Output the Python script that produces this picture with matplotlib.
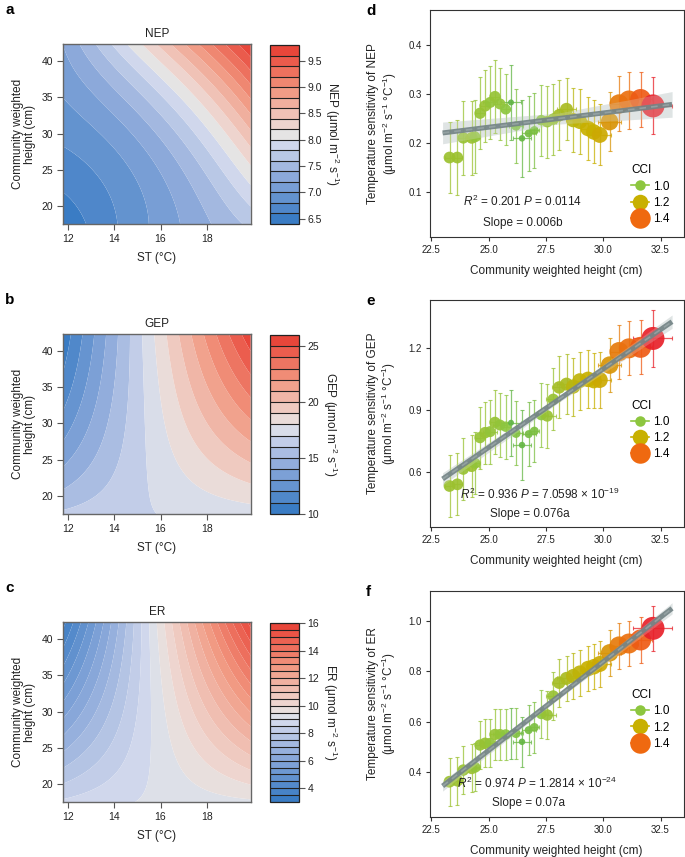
import numpy as np
import matplotlib
matplotlib.use("Agg")
import matplotlib.pyplot as plt
from matplotlib.colors import LinearSegmentedColormap
from matplotlib.lines import Line2D

plt.rcParams['font.family'] = ['Liberation Sans', 'DejaVu Sans']
plt.rcParams['mathtext.fontset'] = 'custom'
plt.rcParams['mathtext.rm'] = 'Liberation Sans'
plt.rcParams['mathtext.it'] = 'Liberation Sans:italic'
plt.rcParams['mathtext.default'] = 'regular'

# ---------------- contour panel data (values read at 3 ST x 3 height points) -------------
st_lim = [11.76, 19.91]
h_lim = [17.48, 42.3]
# rows: height low / mid / high ; cols: ST low / mid / high
nep_grid = [[6.45, 7.05, 7.65],
            [6.85, 7.4, 8.55],
            [7.2, 8.4, 9.8]]
gep_grid = [[16.2, 17.0, 17.5],
            [12.4, 17.6, 21.8],
            [10.3, 18.2, 25.7]]
er_grid = [[8.6, 9.1, 9.4],
           [5.8, 9.2, 12.5],
           [3.3, 9.5, 15.7]]
nep_levels = (6.4, 9.8, 0.2)
gep_levels = (10, 26, 1)
er_levels = (3, 16, 0.5)
nep_ticks = [6.5, 7.0, 7.5, 8.0, 8.5, 9.0, 9.5]
gep_ticks = [10, 15, 20, 25]
er_ticks = [4, 6, 8, 10, 12, 14, 16]

# ---------------- scatter panel data -------------
height = [23.3, 23.64, 23.9, 24.27, 24.41, 24.63, 24.85, 25.07, 25.28, 25.5, 25.75,
          25.98, 26.2, 26.46, 26.75, 27.0, 27.3, 27.56, 27.82, 28.08, 28.4, 28.69,
          28.98, 29.34, 29.59, 29.85, 30.28, 30.69, 31.12, 31.63, 32.17]
cci = [1.05, 1.05, 1.04, 1.05, 1.02, 1.03, 1.04, 1.02, 1.03, 1.02, 1.0,
       0.82, 0.95, 0.84, 0.9, 0.93, 1.0, 1.04, 1.04, 1.08, 1.1, 1.15,
       1.17, 1.2, 1.2, 1.22, 1.28, 1.35, 1.38, 1.42, 1.5]
height_err = [0.2, 0.2, 0.25, 0.3, 0.2, 0.2, 0.2, 0.3, 0.2, 0.3, 0.2,
              0.45, 0.3, 0.4, 0.3, 0.2, 0.3, 0.4, 0.3, 0.3, 0.4, 0.3,
              0.3, 0.3, 0.3, 0.5, 0.5, 0.4, 0.4, 0.5, 0.85]
nep_sens = [0.171, 0.171, 0.211, 0.211, 0.213, 0.261, 0.276, 0.283, 0.295, 0.28, 0.269,
            0.283, 0.235, 0.21, 0.22, 0.226, 0.247, 0.244, 0.249, 0.257, 0.269, 0.247,
            0.244, 0.23, 0.223, 0.217, 0.244, 0.28, 0.287, 0.289, 0.276]
nep_err = [0.073, 0.076, 0.075, 0.075, 0.074, 0.073, 0.073, 0.074, 0.075, 0.074, 0.072,
           0.077, 0.075, 0.078, 0.077, 0.076, 0.072, 0.073, 0.072, 0.071, 0.063, 0.065,
           0.066, 0.064, 0.064, 0.062, 0.06, 0.056, 0.057, 0.056, 0.058]
gep_sens = [0.534, 0.542, 0.616, 0.63, 0.644, 0.768, 0.792, 0.797, 0.842, 0.829, 0.821,
            0.84, 0.789, 0.732, 0.785, 0.8, 0.877, 0.873, 0.953, 1.011, 1.027, 1.015,
            1.044, 1.05, 1.044, 1.047, 1.119, 1.184, 1.2, 1.205, 1.248]
gep_err = [0.15, 0.15, 0.15, 0.15, 0.15, 0.15, 0.15, 0.155, 0.155, 0.155, 0.155,
           0.16, 0.155, 0.17, 0.155, 0.15, 0.155, 0.155, 0.15, 0.15, 0.145, 0.14,
           0.14, 0.14, 0.135, 0.135, 0.13, 0.13, 0.13, 0.13, 0.14]
er_sens = [0.363, 0.367, 0.409, 0.416, 0.42, 0.508, 0.515, 0.515, 0.55, 0.55, 0.55,
           0.554, 0.554, 0.521, 0.567, 0.578, 0.631, 0.627, 0.702, 0.755, 0.772, 0.781,
           0.794, 0.811, 0.818, 0.829, 0.873, 0.9, 0.91, 0.924, 0.97]
er_err = [0.095, 0.095, 0.095, 0.095, 0.095, 0.095, 0.095, 0.095, 0.1, 0.1, 0.1,
          0.1, 0.1, 0.1, 0.1, 0.1, 0.095, 0.095, 0.095, 0.095, 0.09, 0.09,
          0.09, 0.09, 0.09, 0.09, 0.09, 0.09, 0.09, 0.09, 0.09]

# fitted lines and confidence half-widths at left / centre / right
fit_x = [23.0, 28.0, 33.0]
nep_fit = [0.221, 0.250, 0.279]
nep_ci = [0.022, 0.011, 0.026]
gep_fit = [0.568, 0.948, 1.329]
gep_ci = [0.03, 0.014, 0.032]
er_fit = [0.346, 0.697, 1.049]
er_ci = [0.02, 0.01, 0.022]

legend_cci = [1.0, 1.2, 1.4]

W, H = 685, 857
fig = plt.figure(figsize=(W / 100, H / 100), dpi=100)


def add_ax(x0, y0, x1, y1):
    return fig.add_axes([x0 / W, 1 - y1 / H, (x1 - x0) / W, (y1 - y0) / H])


band_cmap = LinearSegmentedColormap.from_list(
    'bwr_gray', [(0.0, '#3A7CC4'), (0.25, '#8CA9DA'), (0.44, '#D0D7EC'),
                 (0.5, '#E5E5E5'), (0.57, '#EFD3CC'), (0.77, '#F1977F'),
                 (1.0, '#E8463A')])


def lagr(t):
    return [2 * (t - 0.5) * (t - 1), -4 * t * (t - 1), 2 * t * (t - 0.5)]


def surface(grid, U, V):
    g = np.array(grid)
    Lu = lagr(U)
    Lv = lagr(V)
    Z = np.zeros_like(U)
    for j in range(3):
        for i in range(3):
            Z += g[j, i] * Lu[i] * Lv[j]
    return Z


st = np.linspace(st_lim[0], st_lim[1], 200)
hh = np.linspace(h_lim[0], h_lim[1], 200)
ST, HH = np.meshgrid(st, hh)
U = (ST - st_lim[0]) / (st_lim[1] - st_lim[0])
V = (HH - h_lim[0]) / (h_lim[1] - h_lim[0])

contour_specs = [
    ('a', 'NEP', nep_grid, nep_levels, nep_ticks, 44.3, 224.3, '{:.1f}'),
    ('b', 'GEP', gep_grid, gep_levels, gep_ticks, 334.3, 514.0, '{:d}'),
    ('c', 'ER', er_grid, er_levels, er_ticks, 622.3, 802.3, '{:d}'),
]

for letter, name, grid, lv, ticks, ytop, ybot, fmt in contour_specs:
    ax = add_ax(62.7, ytop, 250.7, ybot)
    levels = np.round(np.arange(lv[0], lv[1] + lv[2] / 2, lv[2]), 3)
    n = len(levels) - 1
    cols = [band_cmap(k / (n - 1)) for k in range(n)]
    Z = np.clip(surface(grid, U, V), levels[0] + 1e-6, levels[-1] - 1e-6)
    cf = ax.contourf(ST, HH, Z, levels=levels, colors=cols, antialiased=True)
    ax.set_xlim(st_lim)
    ax.set_ylim(h_lim)
    ax.set_xticks([12, 14, 16, 18])
    ax.set_yticks([20, 25, 30, 35, 40])
    ax.tick_params(labelsize=7.5, length=4, width=0.8, color='#555555',
                   labelcolor='#222222', pad=3)
    for s in ax.spines.values():
        s.set_color('#666666')
        s.set_linewidth(1.0)
    ax.set_title(name, fontsize=8.5, pad=5, color='#222222')
    ax.set_xlabel('ST (°C)', fontsize=8.5, labelpad=6, color='#222222')
    ax.set_ylabel('Community weighted\nheight (cm)', fontsize=8.5, labelpad=4,
                  color='#222222', linespacing=1.0)
    fig.text(5 / W, 1 - (ytop - 34) / H, letter, fontsize=11, fontweight='bold',
             va='center', ha='left')

    cax = add_ax(270, ytop + 0.7, 299.3, ybot - 0.3)
    cb = fig.colorbar(cf, cax=cax, drawedges=True)
    cb.outline.set_edgecolor('#222222')
    cb.outline.set_linewidth(0.9)
    cb.dividers.set_color('#222222')
    cb.dividers.set_linewidth(0.8)
    cb.set_ticks(ticks)
    cb.set_ticklabels([fmt.format(t) for t in ticks])
    cax.tick_params(labelsize=7.5, length=4, width=0.8, color='#555555',
                    labelcolor='#222222', pad=2)
    cb.set_label(name + ' (μmol m$^{-2}$ s$^{-1}$)', fontsize=8.5, rotation=270,
                 labelpad=14, color='#222222')

# ---------------- scatter panels -------------
cci_cmap = LinearSegmentedColormap.from_list(
    'cci', [(0.0, '#5DB346'), (0.2 / 0.7, '#8DC63F'), (0.4 / 0.7, '#C8B000'),
            (0.6 / 0.7, '#EF6A10'), (1.0, '#E8212A')])


def cci_color(c):
    return cci_cmap((c - 0.8) / 0.7)


def cci_diam_pt(c):
    return (10.5 + 25 * (c - 1.0)) * 0.72


scatter_specs = [
    ('d', 'NEP', nep_sens, nep_err, nep_fit, nep_ci, (0.01, 0.471), [0.1, 0.2, 0.3, 0.4],
     10.0, 236.7, r'$\mathit{R}^{2}$ = 0.201 $\mathit{P}$ = 0.0114', 'Slope = 0.006b',
     (523, 201.7), (523, 222.7), 0.355, '{:.1f}'),
    ('e', 'GEP', gep_sens, gep_err, gep_fit, gep_ci, (0.337, 1.434), [0.6, 0.9, 1.2],
     300.0, 526.7, r'$\mathit{R}^{2}$ = 0.936 $\mathit{P}$ = 7.0598 × 10$^{-19}$',
     'Slope = 0.076a', (540, 494), (530, 514.3), 0.595, '{:.1f}'),
    ('f', 'ER', er_sens, er_err, er_fit, er_ci, (0.2245, 1.119), [0.4, 0.6, 0.8, 1.0],
     590.7, 816.7, r'$\mathit{R}^{2}$ = 0.974 $\mathit{P}$ = 1.2814 × 10$^{-24}$',
     'Slope = 0.07a', (537, 783.3), (528, 803.3), 0.60, '{:.1f}'),
]

for (letter, name, ys, yerr, fit, ci, ylim, yt, ytop, ybot, txt1, txt2, p1, p2,
     legy, fmt) in scatter_specs:
    ax = add_ax(430, ytop, 683.5, ybot)
    lo = [f - e for f, e in zip(fit, ci)]
    hi = [f + e for f, e in zip(fit, ci)]
    ax.fill_between(fit_x, lo, hi, color='#CDD4D4', alpha=0.6, lw=0, zorder=1)
    for x, y, xe, ye, c in zip(height, ys, height_err, yerr, cci):
        col = cci_color(c)
        ax.errorbar(x, y, yerr=ye, xerr=xe, fmt='none', ecolor=col, elinewidth=0.9,
                    capsize=1.5, capthick=0.8, alpha=0.75, zorder=2)
    ax.scatter(height, ys, s=[cci_diam_pt(c) ** 2 for c in cci],
               c=[cci_color(c) for c in cci], edgecolors='none', alpha=0.92, zorder=3)
    ax.fill_between(fit_x, lo, hi, color='#DDE2E2', alpha=0.25, lw=0, zorder=4)
    ax.plot(fit_x, fit, color='#748486', lw=3.6, alpha=0.92, zorder=5,
            solid_capstyle='butt')
    ax.plot(fit_x, fit, color='#9AA7A8', lw=1.2, ls=(0, (4, 3)), alpha=0.8, zorder=6)

    ax.set_xlim(22.45, 33.5)
    ax.set_ylim(ylim)
    ax.set_xticks([22.5, 25.0, 27.5, 30.0, 32.5])
    ax.set_xticklabels(['22.5', '25.0', '27.5', '30.0', '32.5'])
    ax.set_yticks(yt)
    ax.set_yticklabels([fmt.format(t) for t in yt])
    ax.tick_params(labelsize=7, length=3, width=0.8, color='#333333',
                   labelcolor='#222222', pad=3)
    for s in ax.spines.values():
        s.set_color('#333333')
        s.set_linewidth(0.8)
    ax.set_xlabel('Community weighted height (cm)', fontsize=8.5, labelpad=7,
                  color='#222222')
    ax.set_ylabel('Temperature sensitivity of ' + name +
                  '\n(μmol m$^{-2}$ s$^{-1}$ °C$^{-1}$)', fontsize=8.5, labelpad=7,
                  color='#222222', linespacing=1.1)
    fig.text(p1[0] / W, 1 - p1[1] / H, txt1, fontsize=8.5, ha='center', va='center',
             color='#222222')
    fig.text(p2[0] / W, 1 - p2[1] / H, txt2, fontsize=8.5, ha='center', va='center',
             color='#222222')
    fig.text(366 / W, 1 - (ytop + 1) / H, letter, fontsize=11, fontweight='bold',
             va='center', ha='left')

    handles = [Line2D([0], [0], marker='o', color=cci_color(c), lw=1.2,
                      markersize=cci_diam_pt(c), markeredgewidth=0) for c in legend_cci]
    leg = ax.legend(handles, ['1.0', '1.2', '1.4'], title='CCI', frameon=False,
                    loc='upper left', bbox_to_anchor=(0.76, legy), fontsize=8.5,
                    title_fontsize=8.5, handlelength=1.5, handletextpad=0.4,
                    labelspacing=0.35, borderpad=0.2)
    leg._legend_box.align = 'left'

fig.savefig('out.png', dpi=100)
